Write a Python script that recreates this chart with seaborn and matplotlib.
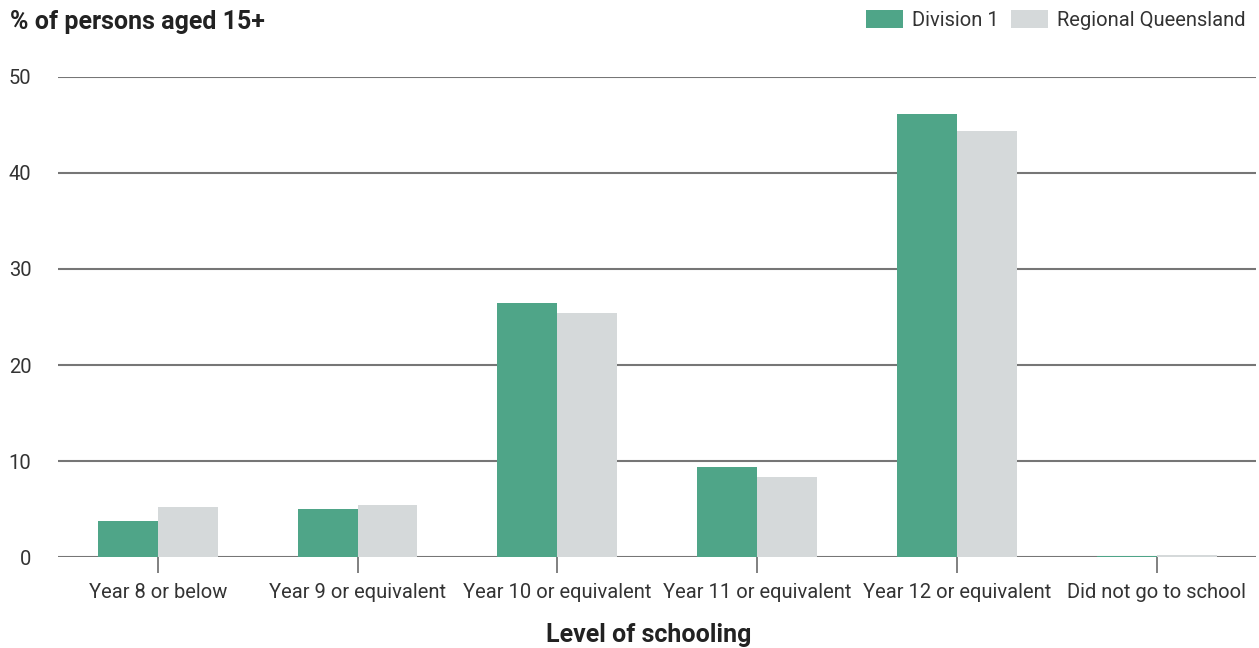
import numpy as np
import pandas as pd
import matplotlib.pyplot as plt
import seaborn as sns
from matplotlib.patches import Patch

# donnees
categories = ['Year 8 or below', 'Year 9 or equivalent', 'Year 10 or equivalent',
              'Year 11 or equivalent', 'Year 12 or equivalent', 'Did not go to school']
division_1 = [3.7, 5.0, 26.5, 9.4, 46.1, 0.1]
regional_qld = [5.2, 5.4, 25.4, 8.3, 44.4, 0.25]
series_names = ['Division 1', 'Regional Queensland']
colors = ['#4fa588', '#d5d9da']

df = pd.DataFrame({
    'category': categories * 2,
    'value': division_1 + regional_qld,
    'series': [series_names[0]] * len(categories) + [series_names[1]] * len(categories),
})

sns.set_style('white')
plt.rcParams['font.family'] = ['Roboto', 'DejaVu Sans']

fig = plt.figure(figsize=(12.59, 6.48), dpi=100)
ax = fig.add_axes([0.046, 0.1404, 0.952, 0.7408])

sns.barplot(data=df, x='category', y='value', hue='series', order=categories,
            hue_order=series_names, palette=colors, width=0.6, saturation=1,
            linewidth=0, ax=ax, legend=False, zorder=3)

ax.set_xlim(-0.5, 5.5)
ax.set_ylim(0, 50)
ax.set_yticks([0, 10, 20, 30, 40, 50])
ax.yaxis.grid(True, color='#767676', linewidth=1.5, zorder=0)
ax.set_axisbelow(True)
for s in ax.spines.values():
    s.set_visible(False)

ax.tick_params(axis='y', left=False, length=0, pad=19, labelsize=14.5, labelcolor='#333333')
ax.tick_params(axis='x', bottom=True, length=11.5, width=1.3, color='#767676', pad=7,
               labelsize=14.5, labelcolor='#333333')

ax.set_ylabel('')
ax.set_xlabel('Level of schooling', fontsize=18, fontweight='bold', color='#222222')
ax.xaxis.set_label_coords(0.493, -0.137)
fig.text(0.008, 0.966, '% of persons aged 15+', fontsize=18, fontweight='bold',
         color='#222222', va='center', ha='left')

handles = [Patch(facecolor=c, edgecolor='none') for c in colors]
fig.legend(handles, series_names, loc='upper right', bbox_to_anchor=(1.004, 1.012), ncol=2,
           frameon=False, fontsize=14.5, handlelength=1.85, handleheight=0.95,
           handletextpad=0.45, columnspacing=0.6, labelcolor='#333333')

plt.savefig('out.png', dpi=100)
